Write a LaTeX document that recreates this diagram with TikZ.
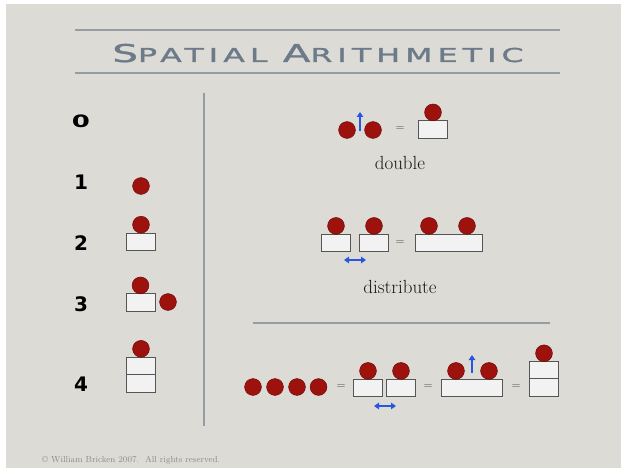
\documentclass[tikz,border=0pt]{standalone}
\usepackage{fontspec}
\usetikzlibrary{arrows.meta}
\newfontfamily\titlefont[LetterSpace=16,FakeBold=1.2]{DejaVu Sans}
\newfontfamily\numfont{DejaVu Sans}
\definecolor{bgcol}{RGB}{221,219,214}
\definecolor{titlecol}{RGB}{108,122,138}
\definecolor{rulecol}{RGB}{150,156,164}
\definecolor{dotred}{RGB}{158,18,14}
\definecolor{dotdark}{RGB}{110,8,8}
\definecolor{boxfill}{RGB}{242,242,242}
\definecolor{boxline}{RGB}{85,85,85}
\definecolor{eqgray}{RGB}{110,110,110}
\definecolor{arrblue}{RGB}{40,85,225}
\definecolor{copygray}{RGB}{140,138,134}
\begin{document}
\begin{tikzpicture}[x=1pt,y=-1pt,
  dot/.style={circle,fill=dotred,draw=dotdark,line width=0.5pt,minimum size=16.8pt,inner sep=0pt},
  box/.style={rectangle,fill=boxfill,draw=boxline,line width=0.9pt,minimum width=29pt,minimum height=17.5pt,inner sep=0pt},
  eq/.style={text=eqgray,font=\fontsize{10}{10}\selectfont\bfseries,inner sep=0pt},
  num/.style={font=\numfont\bfseries\fontsize{20}{20}\selectfont,inner sep=0pt},
  word/.style={font=\fontsize{19}{19}\selectfont,text=black!90,inner sep=0pt,anchor=base},
  barrow/.style={draw=arrblue,line width=2pt,-{Triangle[length=5pt,width=6.5pt]}},
  dbarrow/.style={draw=arrblue,line width=2pt,{Triangle[length=5pt,width=6.5pt]}-{Triangle[length=5pt,width=6.5pt]}},
  rulel/.style={draw=rulecol,line width=1.3pt}]
\useasboundingbox (0,0) rectangle (621,468);
\fill[white] (0,0) rectangle (621,468);
\fill[bgcol] (6,4) rectangle (621,468);
% title
\coordinate (t1a) at (75,30); \coordinate (t1b) at (560,30);
\coordinate (t2a) at (75,73); \coordinate (t2b) at (560,73);
\draw[rulel] (t1a) -- (t1b);
\draw[rulel] (t2a) -- (t2b);
\node[text=titlecol,inner sep=0pt,anchor=base] (title) at (318,62)
  {\scalebox{1.65}[1]{\titlefont\fontsize{24.5}{24.5}\selectfont S\fontsize{19.2}{19.2}\selectfont PATIAL\ \fontsize{24.5}{24.5}\selectfont A\fontsize{19.2}{19.2}\selectfont RITHMETIC}};
% dividers
\coordinate (v1) at (204,93); \coordinate (v2) at (204,426);
\draw[draw=rulecol,line width=1.2pt] (v1) -- (v2);
\coordinate (h1) at (253,323); \coordinate (h2) at (550,323);
\draw[draw=rulecol,line width=1.2pt] (h1) -- (h2);
% left column numbers
\node[num] (n0) at (81,121) {\scalebox{1.3}[0.85]{0}};
\node[num] (n1) at (81,182.5) {1};
\node[num] (n2) at (81,243.5) {2};
\node[num] (n3) at (81,304.5) {3};
\node[num] (n4) at (81,384.5) {4};
% 1
\node[dot] (d1) at (141,186) {};
% 2
\node[box] (b2) at (141,242) {};
\node[dot] (d2) at (141,224.7) {};
% 3
\node[box] (b3) at (140.5,302.5) {};
\node[dot] (d3) at (140.5,285.4) {};
\node[dot] (d3b) at (168,302) {};
% 4
\node[box] (b4a) at (141,366) {};
\node[box] (b4b) at (141,383.5) {};
\node[dot] (d4) at (141,348.8) {};
% double
\node[dot] (dA) at (347,130) {};
\node[dot] (dB) at (373,130) {};
\coordinate (uA1) at (360,131); \coordinate (uA2) at (360,112);
\draw[barrow] (uA1) -- (uA2);
\node[eq] (eqA) at (400,129) {=};
\node[box] (bA) at (433,129.5) {};
\node[dot] (dC) at (433,112.4) {};
\node[word] (wdouble) at (400,169) {double};
% distribute
\node[box] (bD1) at (336,243) {};
\node[box] (bD2) at (374,243) {};
\node[dot] (dD1) at (336,225.9) {};
\node[dot] (dD2) at (374,225.9) {};
\coordinate (hA1) at (344,260); \coordinate (hA2) at (366,260);
\draw[dbarrow] (hA1) -- (hA2);
\node[eq] (eqB) at (400,243) {=};
\node[box,minimum width=67pt] (bD3) at (448.5,243) {};
\node[dot] (dD3) at (429,225.9) {};
\node[dot] (dD4) at (467,225.9) {};
\node[word] (wdist) at (400,293.5) {distribute};
% bottom row
\node[dot] (e1) at (253,387) {};
\node[dot] (e2) at (275,387) {};
\node[dot] (e3) at (297,387) {};
\node[dot] (e4) at (318.5,387) {};
\node[eq] (eqC) at (341,387) {=};
\node[box] (bE1) at (367.5,388) {};
\node[box] (bE2) at (401,388) {};
\node[dot] (dE1) at (368,370.9) {};
\node[dot] (dE2) at (401,370.9) {};
\coordinate (hB1) at (374,406); \coordinate (hB2) at (396,406);
\draw[dbarrow] (hB1) -- (hB2);
\node[eq] (eqD) at (428,387) {=};
\node[box,minimum width=61pt] (bE3) at (471.5,388) {};
\node[dot] (dE3) at (456,370.9) {};
\node[dot] (dE4) at (489,370.9) {};
\coordinate (uB1) at (472,373); \coordinate (uB2) at (472,355);
\draw[barrow] (uB1) -- (uB2);
\node[eq] (eqE) at (516,387) {=};
\node[box] (bE4) at (543.5,370.5) {};
\node[box] (bE5) at (543.5,387.5) {};
\node[dot] (dE5) at (544,353.3) {};
% copyright
\node[text=copygray,font=\fontsize{8.8}{8.8}\selectfont,anchor=base west,inner sep=0pt] (copy) at (42,462) {\textcopyright\ William Bricken 2007.\ \ All rights reserved.};
\end{tikzpicture}
\end{document}
